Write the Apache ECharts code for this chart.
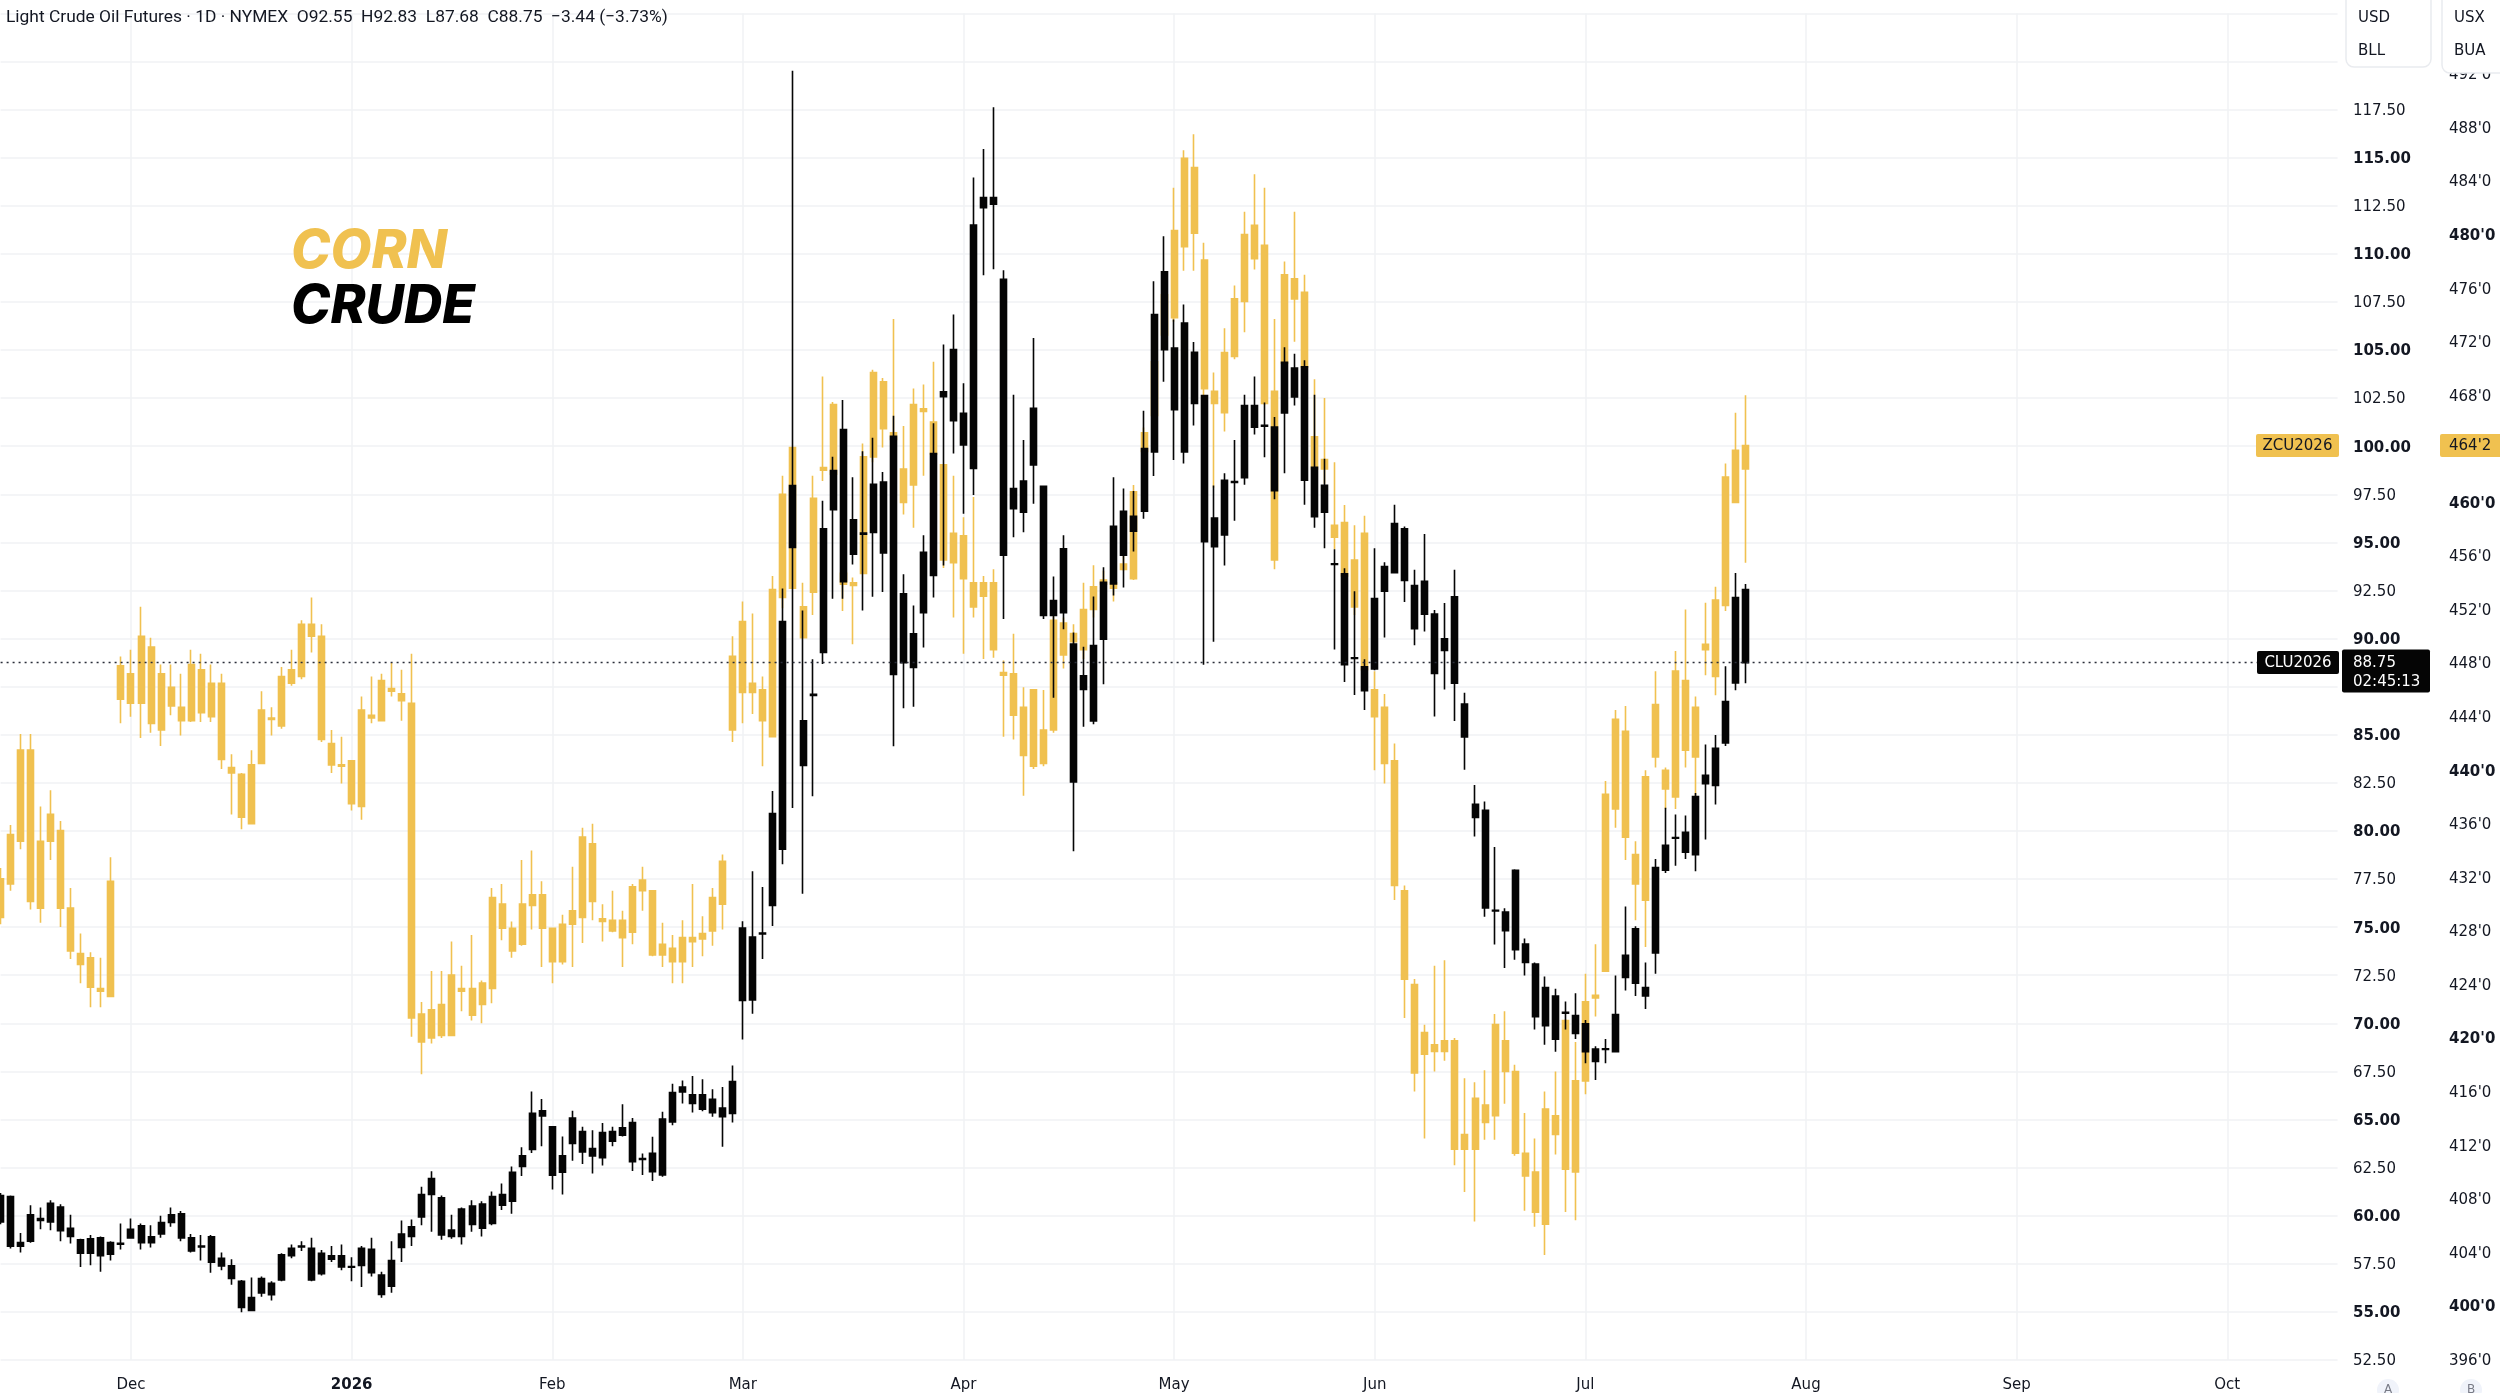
<!DOCTYPE html>
<html>
<head>
<meta charset="utf-8">
<script src="https://cdn.jsdelivr.net/npm/echarts@6/dist/echarts.min.js"></script>
<style>html,body{margin:0;padding:0;background:#ffffff}#chart{width:2500px;height:1393px}</style>
</head>
<body>
<div id="chart"></div>
<script>
// ---------- data ----------
const FIRST_DAY = '2025-11-11';
const BAR_COUNT = 234; // trading days shown (data + empty future space)
const HOLIDAYS = ['2025-11-27','2025-12-25','2026-01-01','2026-01-19','2026-02-16','2026-04-03','2026-05-25','2026-06-19','2026-07-03','2026-09-07'];
const MONTHS = ['Jan','Feb','Mar','Apr','May','Jun','Jul','Aug','Sep','Oct','Nov','Dec'];
const TITLE_TEXT = 'Light Crude Oil Futures \u00b7 1D \u00b7 NYMEX  O92.55  H92.83  L87.68  C88.75  \u22123.44 (\u22123.73%)';
const CORN_SYMBOL = 'ZCU2026';
const CRUDE_SYMBOL = 'CLU2026';
const CRUDE_LAST = 88.75;
const CORN_LAST = 464.25;
const COUNTDOWN = '02:45:13';

// corn futures (cents/bu) [open, close, low, high]
const CORN = [
[431.9,429.0,428.5,432.7],[435.2,431.5,431.0,435.9],[441.5,434.7,434.1,442.7],[441.5,430.2,429.6,442.7],
[434.7,429.7,428.6,437.3],[436.7,434.7,433.3,438.5],[435.5,429.7,428.3,436.2],[429.7,426.5,425.9,431.2],
[426.3,425.5,424.1,427.8],[426.0,423.8,422.3,426.4],[423.7,423.5,422.3,426.0],[431.7,423.1,423.1,433.5],
[447.8,445.3,443.5,448.5],
[447.2,445.0,444.0,449.0],[450.0,445.0,442.4,452.2],[449.2,443.5,442.8,449.9],[447.2,443.0,441.8,447.9],
[446.2,444.8,444.1,447.9],[444.7,443.7,442.6,447.2],[447.9,443.7,443.6,449.0],[447.5,444.3,443.6,448.7],
[446.5,444.0,443.6,447.9],[446.5,440.8,440.1,447.2],[440.2,439.8,436.7,441.2],[439.7,436.5,435.6,439.8],
[440.4,436.0,436.0,441.5],[444.5,440.5,440.5,445.9],[443.9,443.8,442.6,444.7],[447.0,443.3,443.1,447.7],
[447.5,446.5,446.3,449.0],[450.9,447.0,446.8,451.2],[450.9,450.0,448.8,452.9],[450.0,442.3,442.1,450.9],
[442.0,440.4,439.8,443.0],[440.4,440.3,439.0,442.5],[440.7,437.5,437.0,440.7],[444.5,437.3,436.3,445.5],
[444.1,443.9,443.5,447.0],[446.7,443.7,443.7,447.2],[446.1,445.9,445.5,448.0],[445.7,445.2,443.7,447.5],
[445.0,421.5,420.1,448.7],[421.8,419.7,417.3,422.7],[422.1,420.0,419.6,425.0],[422.5,420.2,420.0,425.0],
[424.7,420.2,420.2,427.2],[423.7,423.5,422.0,425.4],[423.7,421.7,421.3,427.7],[424.1,422.5,421.1,424.3],
[430.5,423.7,422.6,431.2],[430.0,428.2,427.3,431.5],[428.2,426.5,426.0,428.7],[430.0,427.0,426.9,433.3],
[430.7,429.9,428.1,434.0],[430.7,428.2,425.3,431.7],[428.2,425.7,424.1,428.2],[428.5,425.7,425.5,429.2],
[429.5,428.5,425.3,432.8],[435.0,429.0,427.1,435.7],[434.5,430.2,428.8,436.0],[428.9,428.7,427.2,430.0],
[428.8,428.0,427.9,431.0],[428.8,427.5,425.3,429.5],[431.3,427.9,427.0,431.5],[431.8,431.0,429.5,432.8],
[431.0,426.2,426.1,431.0],[427.0,426.2,425.3,428.6],[426.7,425.7,424.1,427.7],[427.5,425.7,424.1,428.8],
[427.5,427.2,425.3,431.5],[427.8,427.4,426.1,429.1],[430.5,428.0,426.9,431.2],[433.2,430.0,428.1,433.7],
[448.5,443.0,442.1,450.0],[451.1,445.8,443.5,452.6],[446.5,445.8,444.2,451.7],[446.0,443.7,440.3,447.0],
[453.5,442.5,442.5,454.5],[460.6,452.9,452.1,462.0],[464.1,453.6,453.6,464.1],[452.2,449.9,449.9,454.0],
[460.3,453.3,451.6,462.0],[462.6,462.4,461.6,469.4],[467.3,462.1,461.6,467.5],[454.7,453.9,451.9,455.5],
[454.0,453.8,449.4,454.4],[463.4,454.7,454.7,464.4],[469.7,463.4,463.0,469.9],[469.0,465.5,464.1,469.3],
[465.2,464.7,464.7,473.7],[462.5,460.0,459.1,465.7],[467.3,461.3,458.1,468.5],[467.0,466.8,462.0,468.8],
[466.0,463.6,463.6,470.5],[462.8,455.7,455.1,462.8],[457.7,455.5,451.4,462.0],[457.5,454.3,448.7,458.9],
[454.0,452.2,451.4,460.4],[454.0,453.0,448.3,454.5],[454.0,449.0,448.4,455.0],[447.3,447.1,442.5,448.2],
[447.2,444.1,442.3,450.2],[444.7,441.1,438.1,446.2],[446.0,440.3,440.1,446.0],[443.0,440.5,440.3,446.0],
[451.2,443.0,442.8,451.5],[451.0,448.6,447.6,451.4],[450.2,449.6,449.2,450.9],[452.0,449.0,448.3,454.0],
[453.7,452.0,451.4,455.3],[454.2,453.9,453.6,454.9],[454.0,453.6,452.6,457.0],[455.4,455.0,454.9,456.2],
[460.8,454.3,454.2,461.3],[465.2,463.8,462.6,465.6],[470.5,466.5,465.0,471.5],[475.5,472.5,471.5,476.5],
[480.3,473.8,473.5,483.5],[485.7,479.1,477.3,486.3],[485.0,480.1,477.3,487.5],[478.1,468.5,467.9,479.4],
[468.3,467.4,461.1,469.7],[471.2,466.7,465.3,473.0],[475.2,470.9,470.7,476.2],[480.0,475.0,472.7,481.7],
[480.7,478.2,477.4,484.5],[479.2,467.4,467.3,483.5],[468.3,455.7,455.0,473.7],[477.0,470.4,470.2,478.0],
[476.7,475.2,472.0,481.7],[475.7,470.1,470.1,477.0],[464.9,462.5,462.5,469.2],[463.2,462.5,461.4,467.8],
[458.3,457.4,456.5,463.0],[458.5,454.5,454.5,459.8],[455.7,452.2,451.6,458.3],[457.7,447.5,447.5,459.0],
[446.0,444.0,440.0,447.4],[444.7,440.5,439.0,445.7],[440.7,431.4,430.3,442.0],[431.0,424.4,421.5,431.4],
[424.0,417.4,416.0,424.4],[420.4,418.8,412.5,421.0],[419.5,419.0,417.5,425.4],[419.8,419.0,418.3,425.8],
[419.8,411.7,410.5,420.0],[412.8,411.7,408.5,417.0],[415.5,411.7,406.3,416.7],[415.0,413.7,412.4,417.6],
[421.0,414.2,412.4,421.8],[419.8,417.5,415.1,422.0],[417.5,411.4,411.2,418.0],[411.4,409.7,407.1,414.4],
[410.0,407.0,405.9,412.5],[414.7,406.1,403.8,416.0],[414.2,412.8,411.3,417.5],[421.3,410.2,407.0,421.4],
[416.8,410.0,406.4,419.7],[422.7,416.8,415.8,424.8],[423.2,423.0,421.6,427.0],[438.2,425.0,425.0,439.2],
[443.8,437.1,435.7,444.5],[442.9,435.0,433.3,444.8],[433.7,431.5,428.8,434.7],[439.5,430.3,426.8,440.0],
[444.9,441.0,440.2,447.4],[440.0,438.6,437.1,440.2],[447.4,438.0,437.1,448.9],[446.7,441.5,440.2,452.0],
[444.7,441.0,438.0,445.5],[449.4,449.0,447.1,452.5],[452.7,447.0,445.6,453.7],[461.9,452.3,451.9,462.9],
[463.9,460.0,460.0,466.7],[462.5,464.25,455.5,468.0]
];

// light crude oil futures (USD/bbl) [open, close, low, high]
const CRUDE = [
[61.05,59.67,59.55,61.18],[61.00,58.42,58.30,61.05],[58.60,58.42,58.09,59.10],[60.05,58.67,58.60,60.55],
[59.85,59.75,59.30,60.43],[60.65,59.67,59.25,60.80],[60.45,59.22,58.67,60.60],[59.35,58.92,58.55,60.05],
[58.75,58.05,57.34,58.80],[58.80,58.05,57.42,59.00],[58.85,57.92,57.09,58.92],[58.60,58.00,57.67,58.67],
[58.57,58.52,58.25,59.60],
[59.30,58.85,58.80,59.85],[59.47,58.60,58.25,59.60],[58.90,58.60,58.35,59.50],[59.65,59.05,58.85,60.00],
[60.05,59.65,59.42,60.43],[60.10,58.85,58.67,60.25],[58.85,58.17,58.09,59.05],[58.42,58.38,57.67,59.00],
[58.90,57.59,57.04,59.00],[57.79,57.39,57.17,58.09],[57.39,56.74,56.41,57.74],[56.59,55.23,54.98,56.66],
[55.74,55.08,55.08,56.79],[56.74,55.99,55.79,56.84],[56.49,55.89,55.59,56.59],[57.97,56.66,56.59,58.05],
[58.30,57.92,57.79,58.50],[58.42,58.38,58.17,58.67],[58.30,56.66,56.59,58.85],[58.04,56.99,56.89,58.22],
[57.92,57.74,57.59,58.42],[57.92,57.34,57.17,58.50],[57.36,57.32,56.59,57.84],[58.30,57.42,56.29,58.42],
[58.25,57.04,56.84,58.85],[56.92,55.91,55.74,57.09],[57.67,56.34,55.99,58.67],[59.05,58.35,57.59,59.75],
[59.42,58.92,58.42,59.80],[61.10,59.93,59.50,61.51],[61.93,61.10,59.17,62.31],[60.93,59.00,58.75,61.05],
[59.25,58.92,58.80,60.05],[60.35,58.92,58.50,60.43],[60.50,59.55,59.17,60.80],[60.60,59.35,58.92,60.75],
[61.00,59.60,59.50,61.26],[61.10,60.55,60.30,61.68],[62.26,60.75,60.10,62.56],[63.11,62.56,62.06,63.56],
[65.32,63.44,63.26,66.45],[65.45,65.19,63.61,66.07],[64.62,62.11,61.36,64.62],[63.11,62.26,61.10,64.12],
[65.07,63.76,62.86,65.45],[64.37,63.31,62.69,64.62],[63.49,63.11,62.19,64.44],[64.32,63.01,62.61,64.82],
[64.37,63.87,63.61,64.62],[64.57,64.19,64.12,65.80],[64.84,62.81,62.32,65.08],[62.97,62.93,62.12,63.24],
[63.24,62.29,61.81,64.10],[65.02,62.12,62.03,65.40],[66.40,64.88,64.70,66.86],[66.69,66.43,65.83,67.03],
[66.29,65.83,65.36,67.26],[66.29,65.53,65.43,67.09],[66.05,65.36,65.14,66.57],[65.60,65.14,63.58,66.69],
[66.98,65.31,64.84,67.81],[74.95,71.19,69.16,75.31],[74.49,71.21,70.50,77.91],[74.69,74.65,73.35,77.09],
[80.91,76.13,75.06,82.08],[90.89,79.05,78.27,92.60],[97.95,94.74,81.19,119.52],[85.72,83.40,76.74,91.46],
[87.10,87.04,81.80,88.93],[95.70,89.28,88.68,97.16],[98.73,96.70,92.07,99.45],[100.87,92.96,92.07,102.40],
[96.17,94.38,93.85,98.38],[95.48,95.42,91.46,99.73],[98.02,95.52,92.17,100.44],[98.13,94.45,92.42,98.66],
[100.51,88.14,84.40,101.58],[92.32,88.75,86.38,93.34],[90.25,88.50,86.46,91.72],[94.48,91.35,89.53,95.37],
[99.62,93.28,92.14,101.19],[102.83,102.57,93.80,105.28],[105.02,101.32,99.62,106.84],[101.71,100.06,96.49,103.27],
[111.49,98.84,97.46,113.96],[112.92,112.40,108.88,115.45],[112.92,112.58,109.19,117.62],[108.67,94.33,91.01,109.14],
[97.80,96.75,95.26,102.67],[98.19,96.57,95.53,100.32],[101.97,99.02,97.01,105.62],[97.92,91.20,91.01,97.92],
[91.98,91.20,86.92,93.23],[94.66,91.35,90.49,95.37],[89.71,82.54,78.94,90.31],[88.07,87.36,85.41,89.58],
[89.63,85.72,85.54,92.19],[92.92,89.97,87.62,93.70],[95.84,92.84,92.24,98.39],[96.62,94.33,92.66,97.80],
[96.36,95.58,94.53,97.67],[99.88,96.62,96.23,101.84],[106.84,99.70,98.45,108.57],[109.06,105.02,103.35,110.91],
[105.10,101.89,99.28,106.58],[106.40,99.70,99.10,107.37],[104.88,102.22,101.08,105.42],[102.63,95.04,88.64,102.63],
[96.27,94.77,89.83,97.96],[98.23,95.38,93.80,98.59],[98.16,98.12,96.12,100.32],[102.11,98.36,98.00,102.67],
[102.11,100.99,100.61,103.62],[101.08,101.04,99.42,102.27],[100.99,97.69,97.24,101.51],[104.36,101.73,98.59,105.14],
[104.06,102.56,102.11,104.81],[104.13,98.23,96.95,104.47],[98.90,96.34,95.76,102.67],[97.96,96.57,94.70,99.35],
[93.89,93.85,89.43,94.64],[93.36,88.64,87.74,93.65],[89.00,88.96,87.07,92.46],[88.53,87.29,86.28,88.93],
[92.08,88.42,88.35,94.70],[93.74,92.46,90.06,93.96],[95.98,93.42,93.42,96.95],[95.71,93.02,91.90,95.83],
[92.75,90.51,89.65,93.58],[92.97,91.27,90.37,95.44],[91.27,88.19,85.95,91.49],[89.99,89.38,87.35,91.85],
[92.17,87.68,85.72,93.58],[86.60,84.88,83.18,87.18],[81.39,80.70,79.71,82.39],[81.07,76.00,75.54,81.53],
[75.88,75.84,74.10,79.17],[75.78,74.82,72.87,75.98],[77.96,73.83,73.31,78.01],[74.12,73.16,72.49,74.41],
[73.08,70.35,69.68,73.16],[71.86,69.88,68.89,72.44],[71.42,69.18,68.52,71.80],[70.57,70.53,69.68,71.13],
[70.40,69.47,69.18,71.56],[69.97,68.52,67.93,70.17],[68.66,68.02,67.06,68.81],[68.68,68.64,67.93,69.18],
[70.46,68.52,68.52,72.49],[73.54,72.38,71.71,76.07],[74.91,72.09,71.42,75.05],[71.86,71.42,70.75,73.16],
[78.10,73.66,72.58,78.54],[79.26,77.96,77.81,81.21],[79.66,79.62,78.19,80.86],[79.93,78.89,78.54,80.80],
[81.79,78.77,77.90,81.97],[82.89,82.46,79.55,84.49],[84.29,82.37,81.38,84.99],[86.73,84.58,84.41,88.56],
[92.13,87.69,87.31,93.41],[92.55,88.75,87.68,92.83]
];

// ---------- helpers ----------
function tradingDays(first, n, holidays) {
  const out = [];
  const d = new Date(first + 'T00:00:00Z');
  while (out.length < n) {
    const s = d.toISOString().slice(0, 10);
    const wd = d.getUTCDay();
    if (wd !== 0 && wd !== 6 && holidays.indexOf(s) < 0) out.push(s);
    d.setUTCDate(d.getUTCDate() + 1);
  }
  return out;
}
const DATES = tradingDays(FIRST_DAY, BAR_COUNT, HOLIDAYS);
const isMonthStart = (idx) => idx > 0 && DATES[idx].slice(0, 7) !== DATES[idx - 1].slice(0, 7);

const YELLOW = '#f0c150';
const BLACK = '#050505';
const TXT = '#131722';
const GRIDC = '#f1f2f5';
const AXIS_FONT = 'DejaVu Sans';

// layout (pixels)
const GRID_LEFT = 0.6, GRID_RIGHT = 162.4;
const PLOT_RIGHT = 2500 - GRID_RIGHT;

const chart = echarts.init(document.getElementById('chart'), null, {renderer: 'canvas'});

const option = {
  animation: false,
  backgroundColor: '#ffffff',
  grid: [
    {left: GRID_LEFT, right: GRID_RIGHT, top: 13.3, bottom: 27.3},   // crude
    {left: GRID_LEFT, right: GRID_RIGHT, top: 20.36, bottom: 33.6}   // corn
  ],
  xAxis: [
    {
      type: 'category', gridIndex: 0, data: DATES, boundaryGap: false,
      axisLine: {show: false}, axisTick: {show: false},
      axisLabel: {
        interval: (i) => isMonthStart(i), margin: 18, color: TXT, fontSize: 15, fontFamily: AXIS_FONT,
        formatter: (v) => {
          const m = +v.slice(5, 7) - 1;
          return m === 0 ? '{b|' + v.slice(0, 4) + '}' : MONTHS[m];
        },
        rich: {b: {fontWeight: 'bold', fontSize: 15, fontFamily: AXIS_FONT, color: TXT}}
      },
      splitLine: {show: true, interval: (i) => isMonthStart(i), lineStyle: {color: GRIDC, width: 1.5}}
    },
    {
      type: 'category', gridIndex: 1, data: DATES, boundaryGap: false, show: false,
      splitLine: {show: false}
    }
  ],
  yAxis: [
    {
      type: 'value', gridIndex: 0, position: 'right', min: 52.5, max: 122.5, interval: 2.5,
      axisLine: {show: false}, axisTick: {show: false},
      axisLabel: {
        margin: 2353 - PLOT_RIGHT, color: TXT, fontSize: 15, fontFamily: AXIS_FONT, padding: [3, 0, 0, 0],
        formatter: (v) => v > 118 ? '' : (Math.abs(v % 5) < 1e-9 ? '{b|' + v.toFixed(2) + '}' : v.toFixed(2)),
        rich: {b: {fontWeight: 'bold', fontSize: 15, fontFamily: AXIS_FONT, color: TXT}}
      },
      splitLine: {show: true, lineStyle: {color: GRIDC, width: 1.5}}
    },
    {
      type: 'value', gridIndex: 1, position: 'right', min: 396, max: 496, interval: 4,
      axisLine: {show: false}, axisTick: {show: false},
      axisLabel: {
        margin: 2449 - PLOT_RIGHT, color: TXT, fontSize: 15, fontFamily: AXIS_FONT, padding: [3, 0, 0, 0],
        formatter: (v) => (v % 20 === 0 ? '{b|' + v + "'0}" : v + "'0"),
        rich: {b: {fontWeight: 'bold', fontSize: 15, fontFamily: AXIS_FONT, color: TXT}}
      },
      splitLine: {show: false}
    }
  ],
  series: [
    {
      name: 'Corn', type: 'candlestick', xAxisIndex: 1, yAxisIndex: 1, data: CORN,
      barWidth: 6.5, z: 2,
      itemStyle: {color: YELLOW, color0: YELLOW, borderColor: YELLOW, borderColor0: YELLOW, borderColorDoji: YELLOW, borderWidth: 1.6},
      emphasis: {disabled: true}
    },
    {
      name: 'Crude', type: 'candlestick', xAxisIndex: 0, yAxisIndex: 0, data: CRUDE,
      barWidth: 6.5, z: 3,
      itemStyle: {color: BLACK, color0: BLACK, borderColor: BLACK, borderColor0: BLACK, borderColorDoji: BLACK, borderWidth: 1.6},
      emphasis: {disabled: true},
      markLine: {
        silent: true, symbol: 'none', label: {show: false},
        lineStyle: {color: '#2a2e39', type: [2, 4], width: 1.3},
        data: [{yAxis: CRUDE_LAST}]
      }
    }
  ]
};
chart.setOption(option);

// ---------- overlays tied to the axes ----------
const yCrude = chart.convertToPixel({yAxisIndex: 0}, CRUDE_LAST);
const yCorn = chart.convertToPixel({yAxisIndex: 1}, CORN_LAST);
const fmtCorn = (v) => Math.floor(v) + "'" + Math.round((v - Math.floor(v)) * 8);
const txt = (x, y, text, o) => Object.assign({
  type: 'text', x: x, y: y, z: 101,
  style: Object.assign({text: text, fontSize: 15, fontFamily: AXIS_FONT, fill: TXT, verticalAlign: 'middle', align: 'left'}, (o && o.style) || {})
}, o && o.extra ? o.extra : {});

chart.setOption({
  graphic: [
    txt(6, 18, TITLE_TEXT, {style: {fontFamily: 'Roboto', fontSize: 17.4}}),
    txt(291, 252, 'CORN', {style: {fontFamily: 'Inter', fontSize: 53, fontWeight: 800, fontStyle: 'italic', fill: YELLOW}}),
    txt(291, 307, 'CRUDE', {style: {fontFamily: 'Inter', fontSize: 53, fontWeight: 800, fontStyle: 'italic', fill: '#000000'}}),
    // currency / unit boxes
    {type: 'rect', z: 100, shape: {x: 2346, y: -10, width: 85, height: 77, r: 8}, style: {fill: '#ffffff', stroke: '#e9ebef', lineWidth: 1.5}},
    {type: 'rect', z: 100, shape: {x: 2442, y: -10, width: 70, height: 83, r: 8}, style: {fill: '#ffffff', stroke: '#e9ebef', lineWidth: 1.5}},
    txt(2358, 18, 'USD'), txt(2358, 51, 'BLL'),
    txt(2454, 18, 'USX'), txt(2454, 51, 'BUA'),
    // corn last price labels
    {type: 'rect', z: 100, shape: {x: 2256, y: yCorn - 11.5, width: 83, height: 23, r: 2}, style: {fill: YELLOW}},
    txt(2297.5, yCorn + 1, CORN_SYMBOL, {style: {align: 'center'}}),
    {type: 'rect', z: 100, shape: {x: 2440, y: yCorn - 11.5, width: 62, height: 23, r: 2}, style: {fill: YELLOW}},
    txt(2449, yCorn + 1, fmtCorn(CORN_LAST)),
    // crude last price labels
    {type: 'rect', z: 100, shape: {x: 2257, y: yCrude - 11.5, width: 82, height: 23, r: 2}, style: {fill: BLACK}},
    txt(2298, yCrude + 1, CRUDE_SYMBOL, {style: {align: 'center', fill: '#ffffff'}}),
    {type: 'rect', z: 100, shape: {x: 2342, y: yCrude - 13, width: 88, height: 43, r: 2}, style: {fill: BLACK}},
    txt(2353, yCrude + 0.5, CRUDE_LAST.toFixed(2), {style: {fill: '#ffffff'}}),
    txt(2353, yCrude + 19.5, COUNTDOWN, {style: {fill: '#ffffff'}}),
    // bottom strip of price scales
    {type: 'rect', z: 99, shape: {x: PLOT_RIGHT + 2, y: 1373, width: 200, height: 30}, style: {fill: '#ffffff'}},
    {type: 'circle', z: 100, shape: {cx: 2388, cy: 1390, r: 11}, style: {fill: '#f0f3fa'}},
    txt(2388, 1390, 'A', {style: {align: 'center', fontSize: 12, fill: '#787b86'}}),
    {type: 'circle', z: 100, shape: {cx: 2471, cy: 1390, r: 11}, style: {fill: '#f0f3fa'}},
    txt(2471, 1390, 'B', {style: {align: 'center', fontSize: 12, fill: '#787b86'}})
  ]
});
</script>
</body>
</html>
